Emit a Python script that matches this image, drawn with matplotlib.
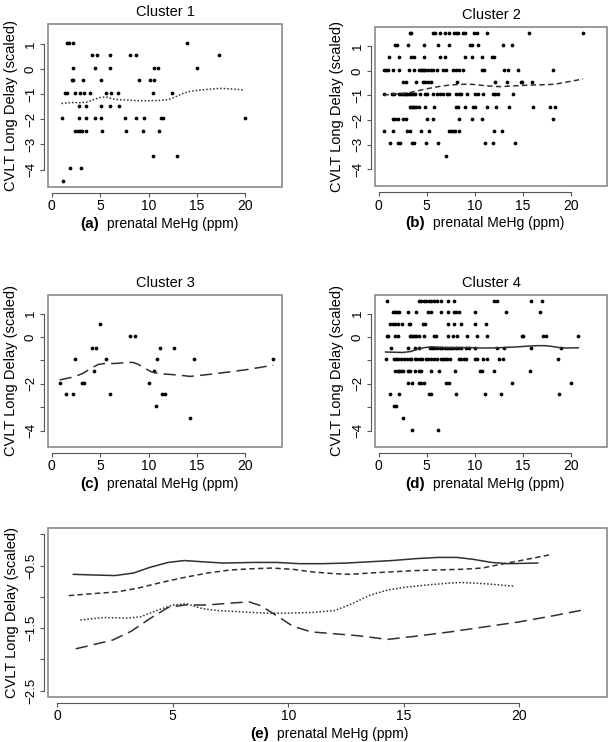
import numpy as np
import matplotlib
matplotlib.use("Agg")
import matplotlib.pyplot as plt
from matplotlib.patches import Rectangle

plt.rcParams['font.family'] = ['Liberation Sans', 'DejaVu Sans']

# ---- scatter data (rows of equal scaled score) ----
c1_rows = {
    1.05: [1.55, 1.8, 2.2, 14.0],
    0.55: [4.2, 4.7, 6.0, 8.1, 8.7, 17.3],
    0.05: [2.2, 4.5, 6.0, 10.6, 11.0, 15.0],
    -0.45: [2.1, 2.2, 3.2, 5.1, 9.0, 10.2, 10.6],
    -0.95: [1.4, 1.6, 2.4, 2.9, 3.3, 3.9, 5.6, 6.1, 6.8, 10.5, 12.4],
    -1.45: [2.8, 3.5, 5.1, 6.0, 6.9],
    -1.95: [1.0, 2.8, 3.5, 4.5, 5.1, 7.6, 8.7, 9.5, 11.3, 11.5, 20.0],
    -2.45: [2.4, 2.7, 2.9, 3.1, 3.5, 5.2, 7.7, 9.4, 11.1],
    -3.45: [10.5, 12.9],
    -3.95: [1.9, 3.0],
    -4.45: [1.2],
}
c2_rows = {
    1.55: [3.2, 3.4, 5.6, 5.9, 6.4, 6.9, 7.3, 7.85, 8.1, 8.3, 8.8, 9.0, 9.97, 10.2, 11.3, 15.65, 21.3],
    1.05: [1.7, 1.9, 3.0, 4.7, 6.2, 7.3, 9.5, 9.7, 10.3, 13.0, 13.9],
    0.55: [1.1, 2.15, 3.4, 3.7, 4.7, 6.4, 6.9, 9.0, 9.7, 10.75, 11.8, 12.0],
    0.05: [0.5, 0.75, 1.0, 1.5, 2.1, 3.1, 3.7, 4.2, 4.35, 4.5, 4.7, 4.85, 5.1, 5.4, 5.6, 6.1,
           6.7, 7.0, 7.7, 8.0, 8.35, 8.8, 10.75, 11.0, 13.1, 13.5, 14.55, 18.2],
    -0.45: [2.55, 2.8, 3.9, 4.6, 4.85, 5.1, 5.4, 8.2, 12.1, 13.4, 14.8, 14.97, 16.0],
    -0.95: [0.5, 1.4, 1.6, 2.1, 2.3, 2.5, 2.65, 2.8, 2.95, 3.15, 3.4, 3.6, 3.75, 4.3, 4.8, 5.0,
            5.6, 6.1, 6.4, 6.65, 7.1, 7.3, 8.1, 8.35, 8.6, 9.2, 10.05, 10.35, 10.9, 11.9, 12.1,
            12.4, 14.0],
    -1.45: [3.2, 3.4, 3.55, 3.7, 3.85, 4.2, 4.8, 5.8, 8.0, 8.25, 9.0, 9.8, 10.0, 11.3, 12.2,
            13.6, 16.1, 17.9, 18.4],
    -1.95: [1.5, 1.7, 1.95, 2.55, 2.8, 5.0, 5.6, 8.35, 9.7, 10.75, 18.2],
    -2.45: [0.5, 1.5, 2.9, 3.2, 4.45, 5.2, 7.3, 7.5, 7.75, 7.95, 8.4, 12.0, 12.8],
    -2.95: [1.2, 2.0, 2.2, 3.5, 3.7, 4.9, 6.2, 11.1, 11.9, 14.2],
    -3.45: [7.0],
}
c3_x = [0.8, 1.45, 2.2, 2.4, 3.1, 3.35, 4.1, 4.6, 4.4, 5.0, 5.6, 6.0, 8.07, 8.6, 10.0,
        10.6, 10.75, 10.85, 11.2, 11.4, 11.75, 12.6, 14.3, 14.75, 22.9]
c3_y = [-1.95, -2.45, -2.45, -0.95, -1.95, -1.95, -0.45, -0.45, -1.45, 0.55, -0.95, -2.45,
        0.05, 0.05, -1.95, -1.45, -2.95, -0.95, -0.45, -2.45, -2.45, -0.45, -3.45, -0.95, -0.95]
c4_rows = {
    1.55: [0.8, 4.2, 4.45, 4.7, 4.95, 5.2, 5.45, 5.75, 6.1, 6.5, 7.25, 7.8, 12.0, 12.3, 15.9, 17.0],
    1.05: [1.45, 1.65, 1.9, 2.1, 3.0, 3.85, 5.1, 5.45, 6.5, 7.25, 7.85, 8.1, 8.35, 10.0, 13.25, 16.85],
    0.55: [1.2, 1.45, 1.7, 2.05, 2.4, 3.1, 3.3, 4.65, 4.8, 7.2, 7.85, 8.6, 10.05, 11.2],
    0.05: [0.8, 1.0, 1.7, 1.95, 3.2, 3.4, 3.6, 3.75, 3.9, 4.15, 4.7, 5.8, 6.0, 7.2, 7.7, 8.2,
           9.2, 10.25, 11.3, 14.9, 15.05, 17.1, 17.4, 20.8],
    -0.45: [1.25, 3.0, 3.8, 4.2, 5.3, 5.55, 5.8, 6.05, 6.4, 6.6, 6.85, 7.1, 7.3, 7.5, 7.75,
            8.0, 8.3, 8.55, 9.05, 9.45, 10.0, 12.3, 13.1, 15.85, 19.0],
    -0.95: [0.7, 1.55, 1.75, 2.05, 2.3, 2.65, 2.9, 3.2, 3.4, 3.8, 4.0, 4.25, 4.5, 4.9, 5.1,
            5.4, 5.8, 6.1, 6.5, 6.7, 6.9, 7.15, 7.4, 8.35, 8.6, 8.85, 9.1, 10.0, 10.25, 10.9,
            11.25, 12.5, 12.9, 18.7],
    -1.45: [1.7, 1.95, 2.15, 2.3, 2.55, 3.0, 3.2, 3.75, 4.2, 4.45, 5.4, 6.3, 7.95, 10.6,
            10.75, 12.0, 15.75],
    -1.95: [3.0, 3.5, 4.2, 4.45, 4.7, 7.05, 7.35, 13.9, 20.0],
    -2.45: [1.2, 2.1, 5.2, 5.4, 8.1, 11.05, 12.7, 18.75],
    -2.95: [1.55, 1.8],
    -3.45: [2.55],
    -3.95: [3.5, 6.15],
}

# ---- smoothed curves ----
s1_x = [1.0, 2.0, 3.0, 3.6, 4.3, 5.0, 5.6, 6.3, 7.0, 8.0, 9.0, 10.0, 11.0, 12.0, 12.7,
        13.5, 14.3, 15.0, 16.0, 17.0, 17.5, 18.5, 19.8]
s1_y = [-1.37, -1.33, -1.34, -1.32, -1.22, -1.13, -1.11, -1.19, -1.22, -1.24, -1.26, -1.26,
        -1.25, -1.22, -1.12, -0.98, -0.89, -0.85, -0.81, -0.78, -0.77, -0.79, -0.83]
s2_x = [0.5, 1.5, 2.6, 3.5, 4.5, 5.5, 6.5, 7.5, 8.5, 9.3, 10.2, 11.0, 12.0, 12.7, 13.5,
        14.5, 15.5, 16.5, 17.5, 18.4, 19.2, 20.2, 21.3]
s2_y = [-0.98, -0.95, -0.92, -0.86, -0.77, -0.69, -0.62, -0.57, -0.55, -0.54, -0.56, -0.60,
        -0.63, -0.64, -0.62, -0.60, -0.58, -0.57, -0.56, -0.54, -0.48, -0.41, -0.33]
s3_x = [0.8, 1.5, 2.4, 3.2, 4.0, 4.8, 5.5, 6.5, 7.5, 8.3, 8.8, 9.5, 10.2, 11.0, 12.0, 13.0,
        14.3, 15.5, 17.0, 18.5, 20.0, 21.5, 22.9]
s3_y = [-1.83, -1.77, -1.69, -1.55, -1.35, -1.17, -1.13, -1.13, -1.10, -1.08, -1.14, -1.30,
        -1.47, -1.56, -1.59, -1.62, -1.68, -1.63, -1.56, -1.48, -1.40, -1.30, -1.20]
s4_x = [0.7, 1.5, 2.5, 3.3, 4.0, 4.8, 5.5, 6.3, 7.2, 8.5, 9.5, 10.5, 11.5, 12.5, 13.5, 14.5,
        15.5, 16.5, 17.3, 18.0, 18.8, 19.5, 20.8]
s4_y = [-0.64, -0.65, -0.66, -0.62, -0.53, -0.45, -0.42, -0.44, -0.46, -0.45, -0.45, -0.47,
        -0.47, -0.46, -0.44, -0.42, -0.39, -0.37, -0.37, -0.40, -0.45, -0.47, -0.46]

x_ticks = [0, 5, 10, 15, 20]
xlim = (-0.4, 23.8)
ylim_top = (-4.69, 1.79)
ylim_e = (-2.6, 0.1)

LINE = '#303030'
styles = {
    1: dict(ls=(0, (1, 1.3)), lw=1.1),
    2: dict(ls=(0, (3.5, 2.2)), lw=1.1),
    3: dict(ls=(0, (8, 4)), lw=1.1),
    4: dict(ls='-', lw=1.1),
}


def rows_to_xy(rows):
    xs, ys = [], []
    for lev, vals in rows.items():
        xs += vals
        ys += [lev] * len(vals)
    return xs, ys


def r_style(ax, yt, ylabels, ybounds):
    for s in ['top', 'right']:
        ax.spines[s].set_visible(False)
    ax.spines['bottom'].set_position(('outward', 4))
    ax.spines['left'].set_position(('outward', 3))
    ax.spines['bottom'].set_bounds(0, 20)
    ax.spines['left'].set_bounds(*ybounds)
    for s in ['bottom', 'left']:
        ax.spines[s].set_color('#555555')
        ax.spines[s].set_linewidth(0.8)
    ax.add_patch(Rectangle((0, 0), 1, 1, transform=ax.transAxes, fill=False,
                           ec='#8a8a8a', lw=1.2, clip_on=False))
    ax.set_xticks(x_ticks)
    ax.set_xticklabels([str(t) for t in x_ticks], fontsize=10)
    ax.set_yticks(yt)
    ax.set_yticklabels(ylabels, fontsize=9.5, rotation=90, va='center')
    ax.tick_params(length=3, width=0.8, color='#555555', pad=2)


W, H = 610, 742
fig = plt.figure(figsize=(W / 100, H / 100), dpi=100)


def box(x0, y0, x1, y1):
    return [x0 / W, 1 - y1 / H, (x1 - x0) / W, (y1 - y0) / H]


panels = [
    (1, box(48, 24, 282, 187), c1_rows, None, s1_x, s1_y, 'a', True),
    (2, box(375, 27, 607, 186), c2_rows, None, s2_x, s2_y, 'b', True),
    (3, box(48, 295, 282, 447), None, (c3_x, c3_y), s3_x, s3_y, 'c', False),
    (4, box(375, 295, 607, 447), c4_rows, None, s4_x, s4_y, 'd', False),
]

for k, rect, rows, xy, sx, sy, tag, full in panels:
    ax = fig.add_axes(rect)
    px, py = rows_to_xy(rows) if rows is not None else xy
    ax.plot(px, py, 'o', color='black', ms=2.7, mec='none')
    ax.plot(sx, sy, color=LINE, **styles[k])
    ax.set_xlim(*xlim)
    ax.set_ylim(*ylim_top)
    yt = [-4, -3, -2, -1, 0, 1]
    if full:
        labs = ['\u22124', '\u22123', '\u22122', '\u22121', '0', '1']
    else:
        labs = ['\u22124', '', '\u22122', '', '0', '1']
    r_style(ax, yt, labs, (-4, 1))
    ax.set_title('Cluster %d' % k, fontsize=10.5, pad=6)
    cx = (rect[0] + rect[2] / 2) * W
    fig.text((cx - 66) / W, rect[1] - 37 / H, '(%s)' % tag, fontsize=11,
             fontweight='bold', ha='right', va='center')
    fig.text((cx - 58) / W, rect[1] - 37 / H, 'prenatal MeHg (ppm)', fontsize=10,
             ha='left', va='center')
    ylx = 11 if rect[0] < 0.3 else 337
    fig.text(ylx / W, rect[1] + rect[3] / 2, 'CVLT Long Delay (scaled)', rotation=90,
             fontsize=10.5, ha='center', va='center')

# ---- panel (e): all smoothers together ----
rect_e = box(48, 528, 607, 697)
ax = fig.add_axes(rect_e)
for k, sx, sy in [(1, s1_x, s1_y), (2, s2_x, s2_y), (3, s3_x, s3_y), (4, s4_x, s4_y)]:
    ax.plot(sx, sy, color=LINE, **styles[k])
ax.set_xlim(*xlim)
ax.set_ylim(*ylim_e)
e_ticks = [-2.5, -2.0, -1.5, -1.0, -0.5, 0.0]
e_labs = ['\u22122.5', '', '\u22121.5', '', '\u22120.5', '']
r_style(ax, e_ticks, e_labs, (-2.5, 0))
fig.text(269 / W, 1 - 734 / H, '(e)', fontsize=11, fontweight='bold', ha='right', va='center')
fig.text(277 / W, 1 - 734 / H, 'prenatal MeHg (ppm)', fontsize=10, ha='left', va='center')
fig.text(12 / W, rect_e[1] + rect_e[3] / 2, 'CVLT Long Delay (scaled)', rotation=90,
         fontsize=10.5, ha='center', va='center')

fig.savefig('out.png', dpi=100)
